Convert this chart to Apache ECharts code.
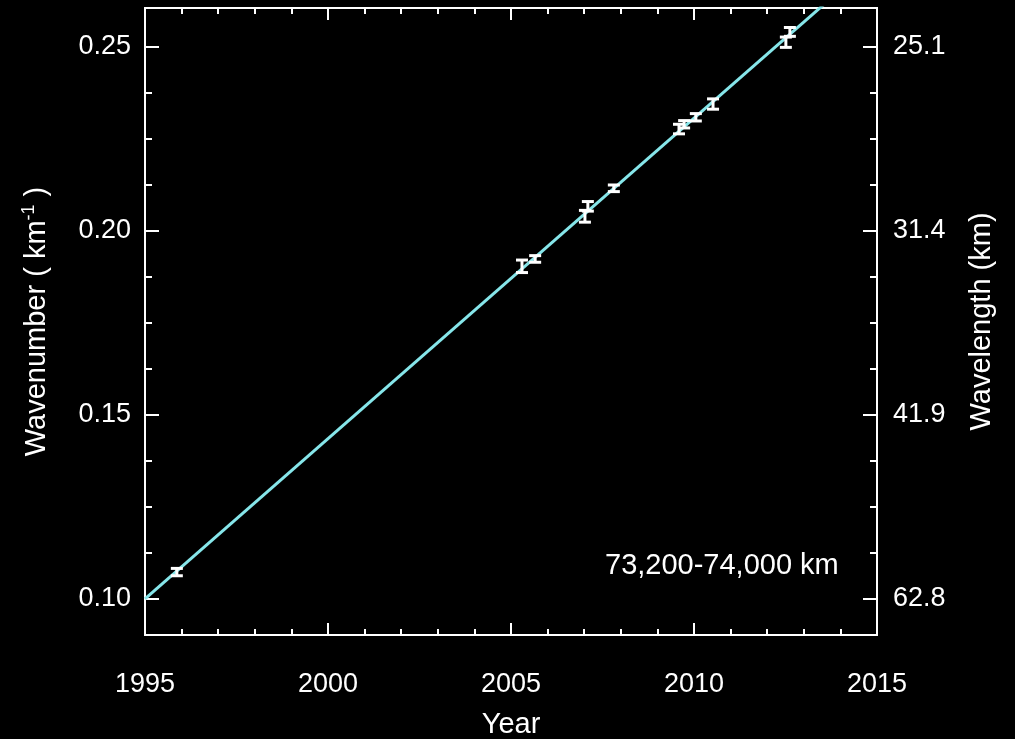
<!DOCTYPE html>
<html>
<head>
<meta charset="utf-8">
<script src="https://cdn.jsdelivr.net/npm/echarts@6/dist/echarts.min.js"></script>
<style>
html,body{margin:0;padding:0;background:#000;}
#chart{width:1015px;height:739px;}
</style>
</head>
<body>
<div id="chart"></div>
<script>
// Observations: year, wavenumber (km^-1), error
const years = [1995.87, 2005.30, 2005.66, 2007.02, 2007.10, 2007.81, 2009.59, 2009.73, 2010.05, 2010.52, 2012.51, 2012.62];
const wavenumbers = [0.1073, 0.1904, 0.1924, 0.2040, 0.2067, 0.2116, 0.2277, 0.2290, 0.2309, 0.2345, 0.2513, 0.2541];
const errors = [0.0010, 0.0017, 0.0009, 0.0016, 0.0013, 0.0009, 0.0013, 0.0010, 0.0010, 0.0014, 0.0014, 0.0012];
// Linear fit line endpoints
const fitYears = [1995, 2015];
const fitValues = [0.1000, 0.2742];
// Axis ticks
const yMajorTicks = [0.10, 0.15, 0.20, 0.25];
const yMinorTicks = [0.1125, 0.125, 0.1375, 0.1625, 0.175, 0.1875, 0.2125, 0.225, 0.2375];
const wavelengthLabels = ['62.8', '41.9', '31.4', '25.1'];
const annotation = '73,200-74,000 km';

const FONT = 'Liberation Sans, Arial, Helvetica, sans-serif';
const YMIN = 0.0902, YMAX = 0.2606;
const chart = echarts.init(document.getElementById('chart'));

const obsData = years.map((y, i) => [y, wavenumbers[i], errors[i]]);
const fitData = fitYears.map((y, i) => [y, fitValues[i]]);

const lineStyle = {color: '#fff', width: 2};
function yAx(pos, major, showLabel) {
  return {
    type: 'value', position: pos, min: YMIN, max: YMAX,
    axisLine: {show: true, lineStyle: lineStyle},
    splitLine: {show: false},
    axisTick: {show: true, inside: true, length: major ? 14 : 7, lineStyle: lineStyle,
      customValues: major ? yMajorTicks : yMinorTicks},
    axisLabel: showLabel ? {
      show: true, customValues: yMajorTicks, margin: pos === 'left' ? 14 : 16, color: '#fff', fontSize: 27, fontFamily: FONT,
      formatter: pos === 'left' ? (v => v.toFixed(2)) : (v => wavelengthLabels[yMajorTicks.findIndex(t => Math.abs(t - v) < 1e-6)])
    } : {show: false}
  };
}

const option = {
  backgroundColor: '#000',
  animation: false,
  grid: {left: 145, right: 138, top: 8, bottom: 104, containLabel: false, outerBoundsMode: 'none'},
  xAxis: [
    {
      type: 'value', position: 'bottom', min: 1995, max: 2015, interval: 5,
      name: 'Year', nameLocation: 'middle', nameGap: 75,
      nameTextStyle: {color: '#fff', fontSize: 29, fontFamily: FONT},
      axisLine: {show: true, lineStyle: lineStyle},
      splitLine: {show: false},
      axisTick: {show: true, inside: true, length: 12, lineStyle: lineStyle},
      minorTick: {show: true, splitNumber: 5, length: 6, lineStyle: lineStyle},
      axisLabel: {margin: 36, color: '#fff', fontSize: 27, fontFamily: FONT, formatter: v => String(v)}
    },
    {
      type: 'value', position: 'top', min: 1995, max: 2015, interval: 5,
      axisLine: {show: true, lineStyle: lineStyle},
      splitLine: {show: false},
      axisTick: {show: true, inside: true, length: 12, lineStyle: lineStyle},
      minorTick: {show: true, splitNumber: 5, length: 6, lineStyle: lineStyle},
      axisLabel: {show: false}
    }
  ],
  yAxis: [
    Object.assign(yAx('left', true, true), {
      name: '{a|Wavenumber ( km}{s|-1}{a| )}', nameLocation: 'middle', nameGap: 92,
      nameTextStyle: {color: '#fff', fontSize: 29, fontFamily: FONT,
        rich: {a: {color: '#fff', fontSize: 29, fontFamily: FONT},
               s: {color: '#fff', fontSize: 18, fontFamily: FONT, verticalAlign: 'top', padding: [0, 0, 15, 0]}}}
    }),
    yAx('left', false, false),
    Object.assign(yAx('right', true, true), {
      name: 'Wavelength (km)', nameLocation: 'middle', nameGap: 90,
      nameTextStyle: {color: '#fff', fontSize: 29, fontFamily: FONT}
    }),
    yAx('right', false, false)
  ],
  graphic: [{
    type: 'text', left: 605, top: 551,
    style: {text: annotation, fill: '#fff', fontSize: 29, fontFamily: FONT}
  }],
  series: [
    {
      type: 'line', xAxisIndex: 0, yAxisIndex: 0, data: fitData,
      showSymbol: false, symbol: 'none', clip: true, z: 2,
      lineStyle: {color: '#86e6ea', width: 3}
    },
    {
      type: 'custom', xAxisIndex: 0, yAxisIndex: 0, data: obsData, z: 5, clip: true,
      renderItem: function (params, api) {
        const x = api.value(0), y = api.value(1), e = api.value(2);
        const top = api.coord([x, y + e]);
        const bot = api.coord([x, y - e]);
        const hw = 6;
        const st = {stroke: '#fff', lineWidth: 3};
        return {
          type: 'group',
          children: [
            {type: 'line', shape: {x1: top[0], y1: top[1], x2: bot[0], y2: bot[1]}, style: st},
            {type: 'line', shape: {x1: top[0] - hw, y1: top[1], x2: top[0] + hw, y2: top[1]}, style: st},
            {type: 'line', shape: {x1: bot[0] - hw, y1: bot[1], x2: bot[0] + hw, y2: bot[1]}, style: st}
          ]
        };
      }
    }
  ]
};
chart.setOption(option);
</script>
</body>
</html>
